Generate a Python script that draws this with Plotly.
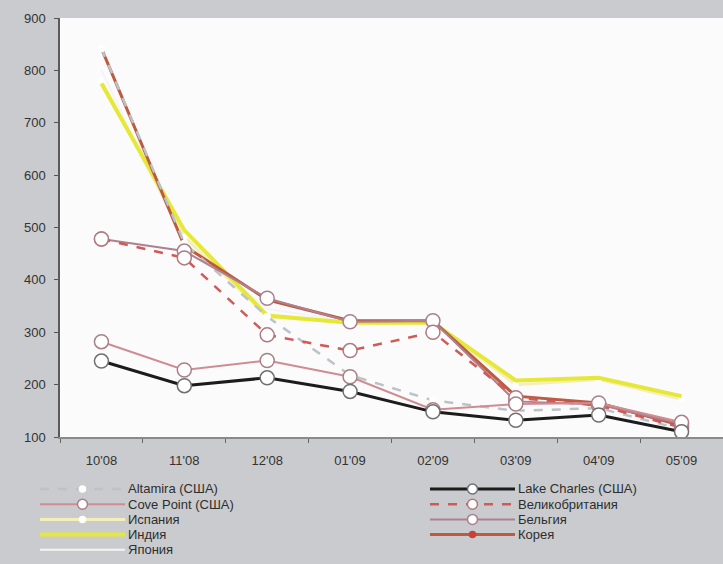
import plotly.graph_objects as go

# Monthly values by terminal / country
months = ["10'08", "11'08", "12'08", "01'09", "02'09", "03'09", "04'09", "05'09"]

altamira = [842, 470, 330, 218, 170, 150, 155, 115]
cove_point = [282, 228, 246, 215, 152, 163, 165, 128]
ispaniya = [780, 482, 330, 318, 318, 200, 210, 172]
indiya = [775, 495, 332, 318, 318, 208, 213, 178]
yaponiya = [800, 470, 345, 320, 320, 180, 165, 125]
lake_charles = [245, 198, 213, 187, 148, 132, 142, 110]
velikobritaniya = [478, 442, 295, 265, 300, 175, 160, 118]
belgiya = [478, 455, 365, 320, 322, 168, 162, 125]
koreya = [842, 465, 362, 322, 322, 178, 165, 122]

y_ticks = [100, 200, 300, 400, 500, 600, 700, 800, 900]

FONT = "Liberation Sans, Arial, sans-serif"

# name, values, line colour, width, dash, marker fill, marker outline, marker size
series = [
    ("Япония", yaponiya, "#f4f4f4", 2, "solid", None, None, 0),
    ("Испания", ispaniya, "#f4efb8", 3, "solid", "#ffffff", "#ffffff", 5),
    ("Индия", indiya, "#e6e838", 4, "solid", None, None, 0),
    ("Корея", koreya, "#bd5a40", 3, "solid", "#cc4038", "#cc4038", 4),
    ("Altamira (США)", altamira, "#bcc3c8", 2.5, "dash", "#ffffff", "#ffffff", 6),
    ("Бельгия", belgiya, "#b0808e", 2, "solid", "#ffffff", "#a88090", 14),
    ("Великобритания", velikobritaniya, "#cf5a56", 2.5, "dash", "#ffffff", "#b07a80", 14),
    ("Cove Point (США)", cove_point, "#cf8c92", 2, "solid", "#ffffff", "#a88088", 14),
    ("Lake Charles (США)", lake_charles, "#1c1c1c", 3, "solid", "#ffffff", "#707070", 14),
]

legend_order = [
    ["Altamira (США)", "Cove Point (США)", "Испания", "Индия", "Япония"],
    ["Lake Charles (США)", "Великобритания", "Бельгия", "Корея"],
]

fig = go.Figure()

for name, vals, color, width, dash, mfill, mline, msize in series:
    mode = "lines+markers" if msize else "lines"
    fig.add_trace(go.Scatter(
        x=months, y=vals, name=name, mode=mode,
        line=dict(color=color, width=width, dash=dash),
        marker=dict(symbol="circle", size=msize, color=mfill,
                    line=dict(color=mline, width=1.5)) if msize else None,
        showlegend=False, hoverinfo="skip",
    ))

# Hand-built two-column legend below the plot (pixel layout converted to paper units)
L, T, W, H = 60, 18, 663, 419
def px(xp):
    return (xp - L) / W
def py(yp):
    return (T + H - yp) / H

style = {s[0]: s for s in series}
col_key = [(40, 125), (430, 515)]
row0, row_step = 489, 15.2
shapes, annotations = [], []
for c, names in enumerate(legend_order):
    k0, k1 = col_key[c]
    for r, name in enumerate(names):
        _, _, color, width, dash, mfill, mline, msize = style[name]
        yy = py(row0 + r * row_step)
        shapes.append(dict(type="line", xref="paper", yref="paper",
                           x0=px(k0), x1=px(k1), y0=yy, y1=yy,
                           line=dict(color=color, width=width, dash=dash)))
        if msize:
            r_px = max(min(msize, 10), 6) / 2
            shapes.append(dict(type="circle", xref="paper", yref="paper",
                               xsizemode="pixel", ysizemode="pixel",
                               xanchor=px((k0 + k1) / 2), yanchor=yy,
                               x0=-r_px, x1=r_px, y0=-r_px, y1=r_px,
                               fillcolor=mfill, line=dict(color=mline, width=1.5)))
        annotations.append(dict(xref="paper", yref="paper", x=px(k1 + 2), y=yy,
                                text=name, showarrow=False, xanchor="left",
                                yanchor="middle", borderpad=0,
                                font=dict(family=FONT, size=13, color="#2e2e2e")))

fig.update_layout(
    width=723, height=564,
    margin=dict(l=L, r=0, t=T, b=564 - T - H),
    paper_bgcolor="#c9cbce",
    plot_bgcolor="#fbfbfb",
    showlegend=False,
    font=dict(family=FONT, size=13, color="#333333"),
    shapes=shapes,
    annotations=annotations,
    xaxis=dict(
        type="category", range=[-0.5, 7.5],
        showgrid=False, zeroline=False,
        showline=True, linecolor="#8a8a8a", linewidth=2,
        ticks="outside", tickson="boundaries", ticklen=4,
        tickcolor="#666666", tickfont=dict(size=13, color="#333333"),
        ticklabelstandoff=10,
    ),
    yaxis=dict(
        range=[100, 900], tickvals=y_ticks,
        showgrid=False, zeroline=False,
        showline=True, linecolor="#5a5a5a", linewidth=1.5,
        ticks="outside", ticklen=4, tickcolor="#555555",
        tickfont=dict(size=13, color="#333333"),
        ticklabelstandoff=6,
    ),
)

fig.write_html("out.html")
